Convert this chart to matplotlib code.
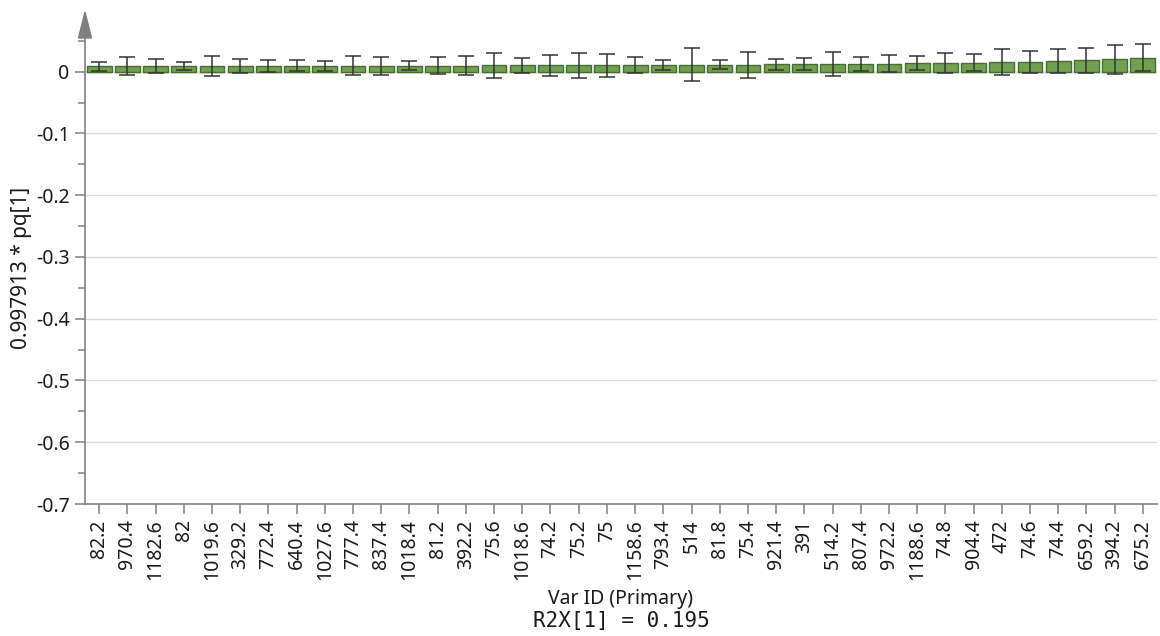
import numpy as np
import matplotlib
matplotlib.use('Agg')
import matplotlib.pyplot as plt
from matplotlib.patches import Polygon
from matplotlib.ticker import MultipleLocator

plt.rcParams['font.family'] = ['Noto Sans', 'DejaVu Sans']

# Loadings (sorted) with their confidence intervals
var_ids = ['82.2', '970.4', '1182.6', '82', '1019.6', '329.2', '772.4', '640.4',
           '1027.6', '777.4', '837.4', '1018.4', '81.2', '392.2', '75.6', '1018.6',
           '74.2', '75.2', '75', '1158.6', '793.4', '514', '81.8', '75.4', '921.4',
           '391', '514.2', '807.4', '972.2', '1188.6', '74.8', '904.4', '472',
           '74.6', '74.4', '659.2', '394.2', '675.2']
pq1 = [0.0088, 0.0089, 0.0090, 0.0091, 0.0092, 0.0093, 0.0093, 0.0094, 0.0095,
       0.0096, 0.0097, 0.0098, 0.0099, 0.0100, 0.0101, 0.0102, 0.0103, 0.0104,
       0.0105, 0.0107, 0.0109, 0.0111, 0.0113, 0.0115, 0.0117, 0.0120, 0.0123,
       0.0127, 0.0132, 0.0137, 0.0143, 0.0149, 0.0156, 0.0163, 0.0172, 0.0182,
       0.0200, 0.0225]
ci = [0.0074, 0.0149, 0.0115, 0.0071, 0.0167, 0.0118, 0.0091, 0.0090, 0.0083,
      0.0153, 0.0146, 0.0075, 0.0139, 0.0149, 0.0202, 0.0125, 0.0167, 0.0199,
      0.0185, 0.0125, 0.0085, 0.0267, 0.0071, 0.0209, 0.0088, 0.0096, 0.0190,
      0.0111, 0.0133, 0.0117, 0.0165, 0.0137, 0.0206, 0.0177, 0.0190, 0.0198,
      0.0230, 0.0218]

W, H = 1160, 636
fig = plt.figure(figsize=(W/100, H/100), dpi=100)
ax_l, ax_r, ax_t, ax_b = 85, 1157, 38, 504
ax = fig.add_axes([ax_l/W, 1 - ax_b/H, (ax_r-ax_l)/W, (ax_b-ax_t)/H])

x = np.arange(len(var_ids))
ax.bar(x, pq1, width=0.88, color='#70a050', edgecolor='#466e30', linewidth=1.0, zorder=3)
ax.errorbar(x, pq1, yerr=ci, fmt='none', ecolor='#333333', elinewidth=1.1,
            capsize=5.5, capthick=1.1, zorder=4)

ax.set_xlim(-0.5, len(var_ids) - 0.5)
ax.set_ylim(-0.7, 0.0546)
ax.set_yticks(np.arange(-0.7, 0.01, 0.1))
ax.set_yticklabels(['-0.7', '-0.6', '-0.5', '-0.4', '-0.3', '-0.2', '-0.1', '0'])
ax.yaxis.set_minor_locator(MultipleLocator(0.05))
ax.set_xticks(x)
ax.set_xticklabels(var_ids, rotation=90)

gray = '#808080'
for s in ['top', 'right']:
    ax.spines[s].set_visible(False)
for s in ['left', 'bottom']:
    ax.spines[s].set_color(gray)
    ax.spines[s].set_linewidth(1.2)
ax.tick_params(axis='both', which='major', color=gray, length=7, width=1.1,
               labelsize=14, labelcolor='#1a1a1a', pad=4)
ax.tick_params(axis='y', which='minor', color=gray, length=5, width=1.1)
ax.grid(axis='y', which='major', color='#dcdcdc', linewidth=1.0, zorder=0)
ax.axhline(0, color='#9a9a9a', linewidth=1.0, zorder=1)

fig.text(22/W, 1 - 268/H, '0.997913 * pq[1]', rotation=90, ha='center', va='center',
         fontsize=15, color='#1a1a1a')
fig.text((ax_l + ax_r) / 2 / W, 1 - 599/H, 'Var ID (Primary)', ha='center', va='center',
         fontsize=14, color='#1a1a1a')
fig.text((ax_l + ax_r) / 2 / W, 1 - 621/H, 'R2X[1] = 0.195', ha='center', va='center',
         fontsize=15, family='DejaVu Sans Mono', color='#1a1a1a')

# arrow head on top of the y axis
cx = ax_l / W
tri = Polygon([[cx - 6.5/W, 1 - ax_t/H], [cx + 6.5/W, 1 - ax_t/H], [cx, 1 - 12/H]],
              closed=True, transform=fig.transFigure, facecolor=gray, edgecolor=gray)
fig.add_artist(tri)

fig.savefig('out.png', dpi=100)
